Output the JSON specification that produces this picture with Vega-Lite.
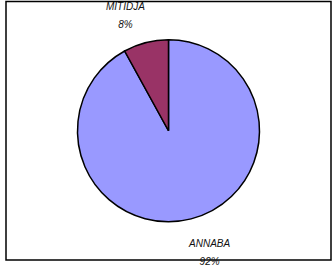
{
  "$schema": "https://vega.github.io/schema/vega-lite/v6.json",
  "width": 335,
  "height": 270,
  "autosize": {"type": "fit", "contains": "padding"},
  "padding": {"left": 6, "top": 1.5, "right": 4, "bottom": 8},
  "background": "white",
  "view": {"stroke": "black", "strokeWidth": 1.5, "fill": "white"},
  "data": {
    "values": [
      {"site": "ANNABA", "share": 92, "label": "ANNABA\n92%"},
      {"site": "MITIDJA", "share": 8, "label": "MITIDJA\n8%"}
    ]
  },
  "encoding": {
    "theta": {"field": "share", "type": "quantitative", "stack": true},
    "order": {"field": "site", "type": "nominal"}
  },
  "layer": [
    {
      "mark": {"type": "arc", "radius": 91, "stroke": "black", "strokeWidth": 1.5},
      "encoding": {
        "color": {
          "field": "site",
          "type": "nominal",
          "scale": {"domain": ["ANNABA", "MITIDJA"], "range": ["#9999FF", "#993366"]},
          "legend": null
        }
      }
    },
    {
      "mark": {"type": "text", "radius": 121, "dx": -13, "dy": -7, "font": "Liberation Sans", "fontSize": 10, "fontStyle": "italic", "fill": "#111", "lineHeight": 18, "lineBreak": "\n", "align": "center", "baseline": "middle"},
      "encoding": {
        "text": {"field": "label", "type": "nominal"},
        "opacity": {"condition": {"test": "datum.site === 'MITIDJA'", "value": 1}, "value": 0}
      }
    },
    {
      "mark": {"type": "text", "radius": 121, "dx": 11, "dy": -4, "font": "Liberation Sans", "fontSize": 10, "fontStyle": "italic", "fill": "#111", "lineHeight": 18, "lineBreak": "\n", "align": "center", "baseline": "middle"},
      "encoding": {
        "text": {"field": "label", "type": "nominal"},
        "opacity": {"condition": {"test": "datum.site === 'ANNABA'", "value": 1}, "value": 0}
      }
    }
  ]
}
